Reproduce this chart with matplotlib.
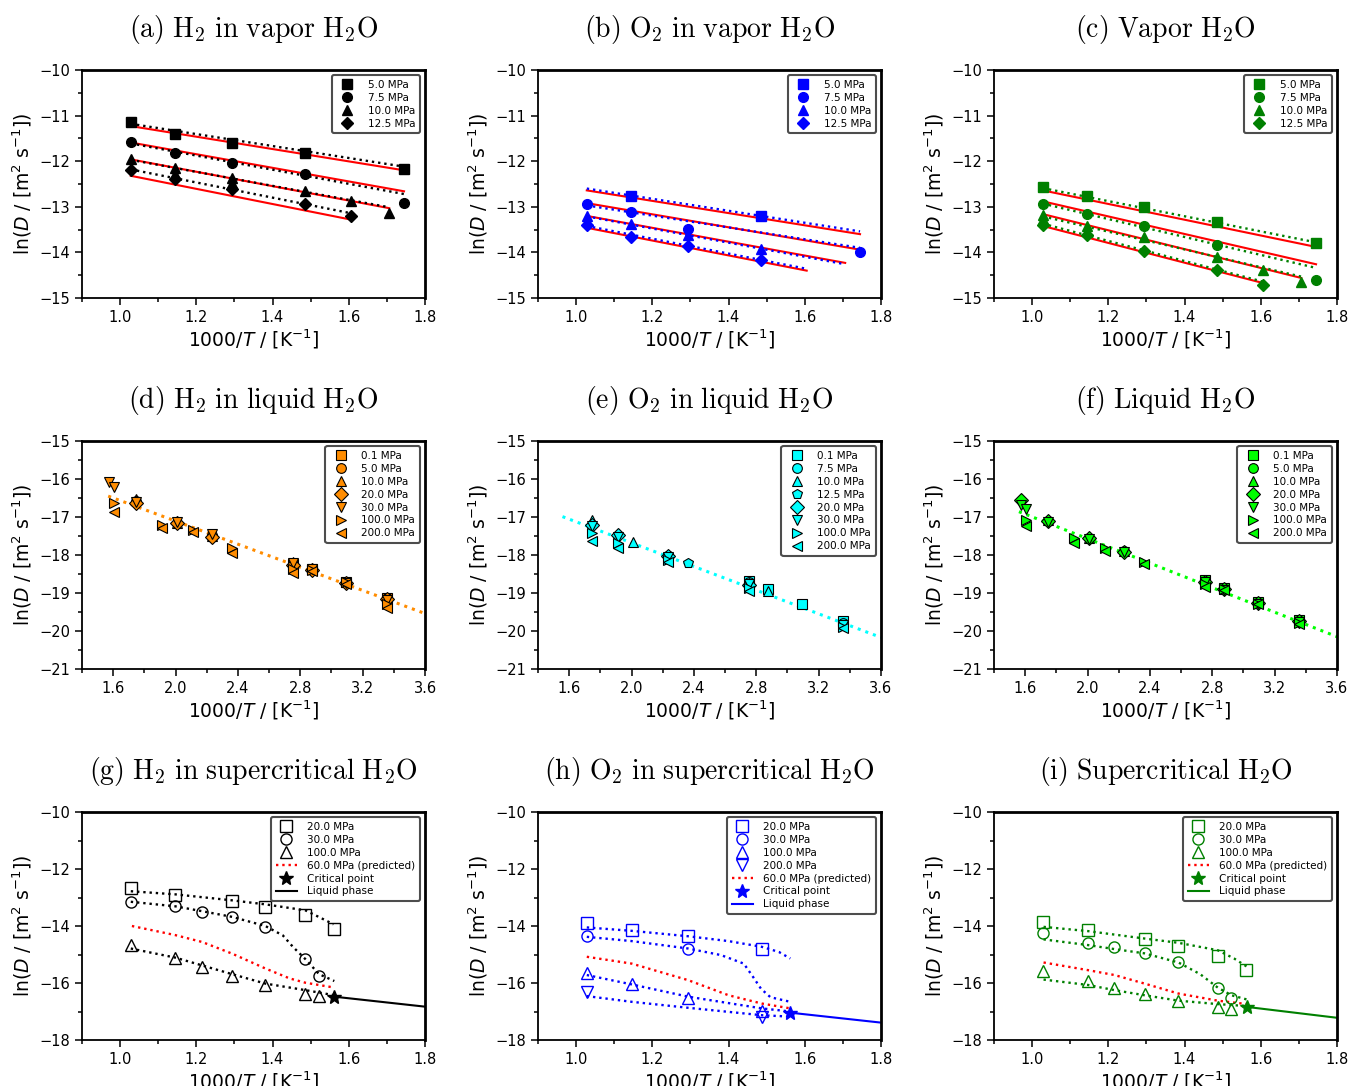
import matplotlib
matplotlib.use('Agg')
import matplotlib.pyplot as plt
from matplotlib.ticker import MultipleLocator, FixedLocator

# ---------------- row 1: vapor ----------------
vap_labels = ['5.0 MPa', '7.5 MPa', '10.0 MPa', '12.5 MPa']
vap_markers = ['s', 'o', '^', 'D']

# (a) H2 in vapor H2O
a_x = [[1.028, 1.145, 1.294, 1.486, 1.745],
       [1.028, 1.145, 1.294, 1.486, 1.745],
       [1.028, 1.145, 1.145, 1.294, 1.294, 1.486, 1.605, 1.706],
       [1.028, 1.145, 1.294, 1.486, 1.605]]
a_y = [[-11.15, -11.40, -11.59, -11.82, -12.18],
       [-11.58, -11.82, -12.04, -12.29, -12.91],
       [-11.95, -12.16, -12.27, -12.37, -12.48, -12.66, -12.88, -13.14],
       [-12.20, -12.39, -12.61, -12.93, -13.20]]
a_line_x = [[1.028, 1.745], [1.028, 1.745], [1.028, 1.706], [1.028, 1.605]]
a_red_y = [[-11.23, -12.20], [-11.59, -12.66], [-11.96, -13.03], [-12.32, -13.28]]
a_dot_y = [[-11.18, -12.12], [-11.61, -12.72], [-11.97, -13.01], [-12.18, -13.14]]

# (b) O2 in vapor H2O
b_x = [[1.145, 1.486],
       [1.028, 1.145, 1.294, 1.745],
       [1.028, 1.028, 1.145, 1.294, 1.486],
       [1.028, 1.145, 1.294, 1.486]]
b_y = [[-12.77, -13.21],
       [-12.94, -13.12, -13.49, -14.00],
       [-13.21, -13.32, -13.37, -13.61, -13.93],
       [-13.41, -13.66, -13.87, -14.16]]
b_line_x = [[1.028, 1.745], [1.028, 1.745], [1.028, 1.706], [1.028, 1.605]]
b_red_y = [[-12.64, -13.60], [-12.92, -13.94], [-13.20, -14.23], [-13.46, -14.40]]
b_dot_y = [[-12.60, -13.54], [-12.97, -13.90], [-13.21, -14.26], [-13.42, -14.36]]

# (c) Vapor H2O
c_x = [[1.028, 1.145, 1.294, 1.486, 1.745],
       [1.028, 1.145, 1.294, 1.486, 1.745],
       [1.028, 1.028, 1.145, 1.294, 1.486, 1.605, 1.706],
       [1.028, 1.145, 1.294, 1.486, 1.605]]
c_y = [[-12.57, -12.76, -13.01, -13.34, -13.80],
       [-12.93, -13.16, -13.43, -13.84, -14.60],
       [-13.18, -13.27, -13.43, -13.66, -14.10, -14.38, -14.66],
       [-13.39, -13.62, -13.96, -14.38, -14.71]]
c_line_x = [[1.028, 1.745], [1.028, 1.745], [1.028, 1.706], [1.028, 1.605]]
c_red_y = [[-12.64, -13.88], [-12.88, -14.26], [-13.16, -14.56], [-13.42, -14.67]]
c_dot_y = [[-12.59, -13.78], [-12.93, -14.34], [-13.21, -14.53], [-13.37, -14.64]]

# ---------------- row 2: liquid ----------------
d_labels = ['0.1 MPa', '5.0 MPa', '10.0 MPa', '20.0 MPa', '30.0 MPa', '100.0 MPa', '200.0 MPa']
d_markers = ['s', 'o', '^', 'D', 'v', '>', '<']
d_x = [[2.755, 2.874, 3.096, 3.356],
       [1.745, 2.008, 2.232, 2.755, 2.874, 3.096, 3.356],
       [1.745, 2.008, 2.232, 2.755, 2.874, 3.096, 3.356],
       [1.745, 2.008, 2.232, 2.755, 2.874, 3.096, 3.356],
       [1.575, 1.605, 1.745, 2.008, 2.232, 2.755, 2.874, 3.096, 3.356],
       [1.605, 1.912, 2.114, 2.364, 2.755, 2.874, 3.096, 3.356],
       [1.605, 1.912, 2.114, 2.364, 2.755, 2.874, 3.096, 3.356]]
d_y = [[-18.25, -18.38, -18.72, -19.12],
       [-16.58, -17.15, -17.48, -18.25, -18.38, -18.72, -19.14],
       [-16.52, -17.15, -17.50, -18.18, -18.38, -18.72, -19.15],
       [-16.62, -17.17, -17.52, -18.27, -18.40, -18.75, -19.16],
       [-16.07, -16.20, -16.60, -17.13, -17.45, -18.22, -18.38, -18.74, -19.18],
       [-16.62, -17.21, -17.34, -17.82, -18.36, -18.40, -18.72, -19.28],
       [-16.86, -17.30, -17.40, -17.95, -18.48, -18.42, -18.76, -19.40]]
d_line_x = [1.568, 3.6]
d_line_y = [-16.45, -19.54]

e_labels = ['0.1 MPa', '7.5 MPa', '10.0 MPa', '12.5 MPa', '20.0 MPa', '30.0 MPa', '100.0 MPa', '200.0 MPa']
e_markers = ['s', 'o', '^', 'p', 'D', 'v', '>', '<']
e_x = [[2.755, 2.874, 3.096, 3.356],
       [2.755, 3.356],
       [1.745, 2.008, 2.874],
       [2.232, 2.364],
       [1.745, 1.912, 2.232, 2.755],
       [1.745, 1.912, 2.232, 2.755, 3.356],
       [1.745, 1.912, 2.232, 2.755, 3.356],
       [1.745, 1.912, 2.232, 2.755, 3.356]]
e_y = [[-18.68, -18.90, -19.30, -19.74],
       [-18.72, -19.78],
       [-17.08, -17.67, -18.95],
       [-18.00, -18.20],
       [-17.21, -17.47, -18.02, -18.78],
       [-17.25, -17.52, -18.05, -18.76, -19.84],
       [-17.41, -17.69, -18.13, -18.88, -19.89],
       [-17.62, -17.82, -18.18, -18.96, -19.93]]
e_line_x = [1.557, 3.6]
e_line_y = [-16.99, -20.17]

f_labels = ['0.1 MPa', '5.0 MPa', '10.0 MPa', '20.0 MPa', '30.0 MPa', '100.0 MPa', '200.0 MPa']
f_markers = ['s', 'o', '^', 'D', 'v', '>', '<']
f_x = [[2.755, 2.874, 3.096, 3.356],
       [1.745, 2.008, 2.232, 2.755, 2.874, 3.096, 3.356],
       [1.745, 2.008, 2.232, 2.755, 2.874, 3.096, 3.356],
       [1.575, 1.745, 2.008, 2.232, 2.755, 2.874, 3.096, 3.356],
       [1.575, 1.605, 1.745, 2.008, 2.232, 2.755, 2.874, 3.096, 3.356],
       [1.605, 1.912, 2.114, 2.364, 2.755, 2.874, 3.096, 3.356],
       [1.605, 1.912, 2.114, 2.364, 2.755, 2.874, 3.096, 3.356]]
f_y = [[-18.66, -18.88, -19.25, -19.72],
       [-17.10, -17.55, -17.90, -18.70, -18.90, -19.26, -19.74],
       [-17.08, -17.56, -17.90, -18.72, -18.90, -19.27, -19.75],
       [-16.54, -17.10, -17.55, -17.91, -18.70, -18.90, -19.27, -19.75],
       [-16.68, -16.80, -17.12, -17.58, -17.93, -18.72, -18.92, -19.28, -19.77],
       [-17.08, -17.56, -17.82, -18.18, -18.76, -18.90, -19.28, -19.78],
       [-17.24, -17.68, -17.89, -18.24, -18.83, -18.92, -19.30, -19.82]]
f_line_x = [1.56, 3.6]
f_line_y = [-16.86, -20.15]

# ---------------- row 3: supercritical ----------------
g_labels = ['20.0 MPa', '30.0 MPa', '100.0 MPa']
g_markers = ['s', 'o', '^']
g_x = [[1.028, 1.145, 1.294, 1.381, 1.486, 1.56],
       [1.028, 1.145, 1.215, 1.294, 1.381, 1.486, 1.522],
       [1.028, 1.145, 1.215, 1.294, 1.381, 1.486, 1.522]]
g_y = [[-12.66, -12.90, -13.12, -13.33, -13.62, -14.09],
       [-13.15, -13.31, -13.50, -13.68, -14.03, -15.16, -15.75],
       [-14.67, -15.14, -15.43, -15.75, -16.07, -16.37, -16.46]]
g_fit_x = [[1.028, 1.145, 1.294, 1.381, 1.486, 1.524, 1.56],
           [1.028, 1.145, 1.215, 1.294, 1.381, 1.427, 1.454, 1.486, 1.522, 1.562],
           [1.028, 1.145, 1.294, 1.381, 1.486, 1.562]]
g_fit_y = [[-12.78, -12.89, -13.10, -13.24, -13.45, -13.70, -13.94],
           [-13.15, -13.31, -13.48, -13.68, -14.00, -14.33, -14.74, -15.16, -15.69, -15.93],
           [-14.79, -15.11, -15.69, -16.02, -16.25, -16.43]]
g_pred_x = [1.031, 1.145, 1.215, 1.294, 1.381, 1.445, 1.486, 1.562]
g_pred_y = [-14.00, -14.32, -14.56, -14.97, -15.49, -15.84, -15.99, -16.16]
g_crit = [1.562, -16.48]
g_liq_x = [1.562, 1.8]
g_liq_y = [-16.48, -16.83]

h_labels = ['20.0 MPa', '30.0 MPa', '100.0 MPa', '200.0 MPa']
h_markers = ['s', 'o', '^', 'v']
h_x = [[1.028, 1.146, 1.294, 1.487],
       [1.028, 1.294],
       [1.028, 1.146, 1.294, 1.487],
       [1.028, 1.487]]
h_y = [[-13.91, -14.15, -14.36, -14.79],
       [-14.34, -14.81],
       [-15.64, -16.05, -16.52, -16.97],
       [-16.31, -17.18]]
h_fit_x = [[1.028, 1.146, 1.294, 1.40, 1.487, 1.532, 1.562],
           [1.028, 1.146, 1.294, 1.38, 1.44, 1.465, 1.485, 1.51, 1.562],
           [1.028, 1.146, 1.294, 1.487, 1.562],
           [1.028, 1.146, 1.294, 1.487, 1.562]]
h_fit_y = [[-14.05, -14.17, -14.36, -14.53, -14.73, -14.91, -15.14],
           [-14.38, -14.53, -14.79, -15.02, -15.32, -15.80, -16.20, -16.50, -16.66],
           [-15.72, -16.05, -16.48, -16.89, -17.00],
           [-16.46, -16.66, -16.87, -17.13, -17.18]]
h_pred_x = [1.028, 1.146, 1.294, 1.40, 1.487, 1.562]
h_pred_y = [-15.08, -15.32, -15.90, -16.43, -16.72, -16.89]
h_crit = [1.561, -17.04]
h_liq_x = [1.561, 1.8]
h_liq_y = [-17.04, -17.39]

i_labels = ['20.0 MPa', '30.0 MPa', '100.0 MPa']
i_markers = ['s', 'o', '^']
i_x = [[1.028, 1.147, 1.295, 1.384, 1.487, 1.561],
       [1.028, 1.147, 1.216, 1.295, 1.384, 1.487, 1.523],
       [1.028, 1.147, 1.216, 1.295, 1.384, 1.487, 1.523]]
i_y = [[-13.85, -14.15, -14.47, -14.71, -15.05, -15.55],
       [-14.26, -14.58, -14.75, -14.96, -15.28, -16.16, -16.51],
       [-15.57, -15.92, -16.17, -16.40, -16.62, -16.84, -16.91]]
i_fit_x = [[1.03, 1.147, 1.295, 1.384, 1.487, 1.53, 1.564],
           [1.03, 1.147, 1.216, 1.295, 1.384, 1.441, 1.487, 1.523, 1.564],
           [1.03, 1.147, 1.216, 1.295, 1.384, 1.487, 1.564]]
i_fit_y = [[-14.03, -14.18, -14.44, -14.59, -14.85, -15.14, -15.43],
           [-14.47, -14.67, -14.81, -14.96, -15.28, -15.69, -16.16, -16.43, -16.58],
           [-15.88, -16.07, -16.25, -16.43, -16.62, -16.74, -16.81]]
i_pred_x = [1.03, 1.147, 1.216, 1.295, 1.384, 1.487, 1.564]
i_pred_y = [-15.28, -15.55, -15.72, -16.02, -16.37, -16.62, -16.74]
i_crit = [1.564, -16.84]
i_liq_x = [1.564, 1.8]
i_liq_y = [-16.84, -17.22]

titles = [r'$\mathrm{(a)\ H_2\ in\ vapor\ H_2O}$', r'$\mathrm{(b)\ O_2\ in\ vapor\ H_2O}$',
          r'$\mathrm{(c)\ Vapor\ H_2O}$',
          r'$\mathrm{(d)\ H_2\ in\ liquid\ H_2O}$', r'$\mathrm{(e)\ O_2\ in\ liquid\ H_2O}$',
          r'$\mathrm{(f)\ Liquid\ H_2O}$',
          r'$\mathrm{(g)\ H_2\ in\ supercritical\ H_2O}$', r'$\mathrm{(h)\ O_2\ in\ supercritical\ H_2O}$',
          r'$\mathrm{(i)\ Supercritical\ H_2O}$']

W, H = 1353, 1086
fig = plt.figure(figsize=(W / 100, H / 100), dpi=100)
col_left = [82, 538, 994]
row_top = [70, 441, 812]


def style_axes(ax, row, title):
    if row == 1:
        ax.set_xlim(1.4, 3.6)
        ax.set_ylim(-21, -15)
        ax.xaxis.set_major_locator(FixedLocator([1.6, 2.0, 2.4, 2.8, 3.2, 3.6]))
        ax.xaxis.set_minor_locator(MultipleLocator(0.2))
        ax.yaxis.set_major_locator(MultipleLocator(1))
        ax.yaxis.set_minor_locator(MultipleLocator(0.5))
    else:
        ax.set_xlim(0.9, 1.8)
        ax.xaxis.set_major_locator(FixedLocator([1.0, 1.2, 1.4, 1.6, 1.8]))
        ax.xaxis.set_minor_locator(MultipleLocator(0.1))
        if row == 0:
            ax.set_ylim(-15, -10)
            ax.yaxis.set_major_locator(MultipleLocator(1))
            ax.yaxis.set_minor_locator(MultipleLocator(0.5))
        else:
            ax.set_ylim(-18, -10)
            ax.yaxis.set_major_locator(MultipleLocator(2))
            ax.yaxis.set_minor_locator(MultipleLocator(1))
    ax.tick_params(which='both', direction='out', labelsize=10.5, width=1.1)
    ax.tick_params(which='major', length=5)
    ax.tick_params(which='minor', length=3)
    for s in ['left', 'bottom']:
        ax.spines[s].set_linewidth(1.3)
    for s in ['top', 'right']:
        ax.spines[s].set_linewidth(2.0)
    ax.set_xlabel(r'1000/$T$ / [K$^{-1}$]', fontsize=13.5, labelpad=2)
    ax.set_ylabel(r'ln($D$ / [m$^2$ s$^{-1}$])', fontsize=13.5, labelpad=4)
    ax.set_title(title, fontsize=20, math_fontfamily='cm', pad=24)


def add_legend(ax, **kw):
    leg = ax.legend(loc='upper right', fontsize=7.5, labelspacing=0.28, borderaxespad=0.5,
                    handletextpad=1.0, borderpad=0.45, framealpha=1, **kw)
    leg.get_frame().set_edgecolor('0.3')
    leg.get_frame().set_linewidth(1.5)
    return leg


def draw_vapor(ax, xs, ys, line_x, red_y, dot_y, color):
    for lx, ry, dy in zip(line_x, red_y, dot_y):
        ax.plot(lx, ry, '-', color='red', lw=1.5, zorder=2)
        ax.plot(lx, dy, ':', color=color, lw=1.7, zorder=3)
    for x, y, m, lab in zip(xs, ys, vap_markers, vap_labels):
        ax.plot(x, y, m, color=color, ms=7 if m != 'D' else 6.5, ls='none', label=lab, zorder=4)
    add_legend(ax)


def draw_liquid(ax, xs, ys, labels, markers, lx, ly, color):
    ax.plot(lx, ly, ':', color=color, lw=2.2, zorder=2)
    for x, y, m, lab in zip(xs, ys, markers, labels):
        ax.plot(x, y, m, color=color, mec='black', mew=0.8, ms=7, ls='none', label=lab, zorder=3)
    add_legend(ax)


def draw_super(ax, xs, ys, labels, markers, fit_x, fit_y, pred_x, pred_y, crit, liq_x, liq_y, color):
    handles = []
    for fx, fy in zip(fit_x, fit_y):
        ax.plot(fx, fy, ':', color=color, lw=1.7, zorder=2)
    for x, y, m, lab in zip(xs, ys, markers, labels):
        h, = ax.plot(x, y, m, mfc='none', mec=color, mew=1.0, ms=8, ls='none', label=lab, zorder=3)
        handles.append(h)
    hp, = ax.plot(pred_x, pred_y, ':', color='red', lw=1.7, label='60.0 MPa (predicted)', zorder=2)
    hl, = ax.plot(liq_x, liq_y, '-', color=color, lw=1.5, label='Liquid phase', zorder=2)
    hc, = ax.plot([crit[0]], [crit[1]], '*', color=color, ms=10, ls='none', label='Critical point', zorder=4)
    handles += [hp, hc, hl]
    add_legend(ax, handles=handles)


axes = []
for r in range(3):
    for c in range(3):
        ax = fig.add_axes([col_left[c] / W, 1 - (row_top[r] + 228) / H, 343 / W, 228 / H])
        style_axes(ax, r, titles[r * 3 + c])
        axes.append(ax)

draw_vapor(axes[0], a_x, a_y, a_line_x, a_red_y, a_dot_y, 'black')
draw_vapor(axes[1], b_x, b_y, b_line_x, b_red_y, b_dot_y, 'blue')
draw_vapor(axes[2], c_x, c_y, c_line_x, c_red_y, c_dot_y, 'green')

draw_liquid(axes[3], d_x, d_y, d_labels, d_markers, d_line_x, d_line_y, 'darkorange')
draw_liquid(axes[4], e_x, e_y, e_labels, e_markers, e_line_x, e_line_y, 'cyan')
draw_liquid(axes[5], f_x, f_y, f_labels, f_markers, f_line_x, f_line_y, 'lime')

draw_super(axes[6], g_x, g_y, g_labels, g_markers, g_fit_x, g_fit_y, g_pred_x, g_pred_y,
           g_crit, g_liq_x, g_liq_y, 'black')
draw_super(axes[7], h_x, h_y, h_labels, h_markers, h_fit_x, h_fit_y, h_pred_x, h_pred_y,
           h_crit, h_liq_x, h_liq_y, 'blue')
draw_super(axes[8], i_x, i_y, i_labels, i_markers, i_fit_x, i_fit_y, i_pred_x, i_pred_y,
           i_crit, i_liq_x, i_liq_y, 'green')

fig.savefig('out.png', dpi=100)
